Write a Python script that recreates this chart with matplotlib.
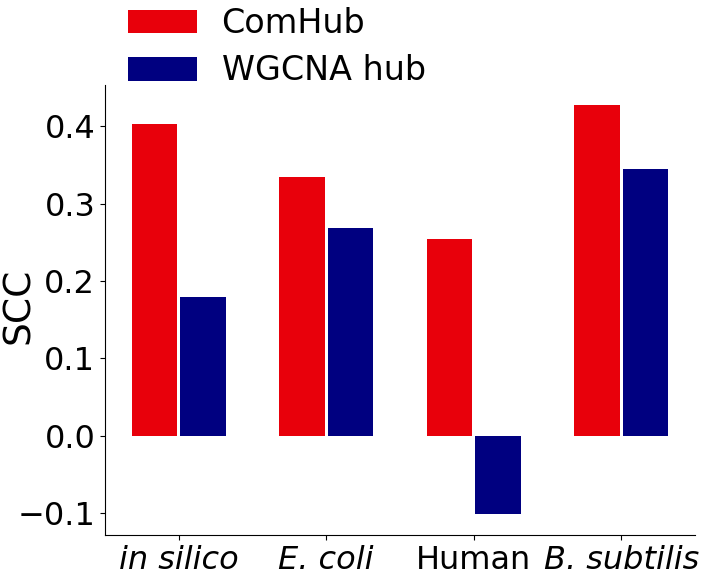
import numpy as np
import matplotlib
matplotlib.use("Agg")
import matplotlib.pyplot as plt

# dati
datasets = ["in silico", "E. coli", "Human", "B. subtilis"]
comhub = [0.403, 0.334, 0.255, 0.427]
wgcna = [0.179, 0.268, -0.101, 0.345]

fig = plt.figure(figsize=(7.12, 5.72), dpi=100)
ax = fig.add_axes([0.1475, 0.0647, 0.8285, 0.7863])

x = np.arange(len(datasets))
w = 0.31
ax.bar(x - 0.165, comhub, w, color="#E8000B", label="ComHub")
ax.bar(x + 0.165, wgcna, w, color="#000080", label="WGCNA hub")

ax.set_xlim(-0.5, 3.5)
ax.set_ylim(-0.128, 0.453)
ax.set_yticks([-0.1, 0.0, 0.1, 0.2, 0.3, 0.4])
ax.set_xticks(x)
ax.set_xticklabels(datasets, fontsize=23)
for lab, txt in zip(ax.get_xticklabels(), datasets):
    if txt != "Human":
        lab.set_style("italic")
ax.tick_params(axis="y", labelsize=23)
ax.set_ylabel("SCC", fontsize=27)
ax.yaxis.set_label_coords(-0.116, 0.51)
ax.spines["top"].set_visible(False)
ax.spines["right"].set_visible(False)

fig.legend(loc="upper left", bbox_to_anchor=(0.138, 1.04), frameon=False,
           fontsize=24, handlelength=2.05, handleheight=0.72, labelspacing=0.43,
           handletextpad=0.75)

fig.savefig("out.png", dpi=100)
